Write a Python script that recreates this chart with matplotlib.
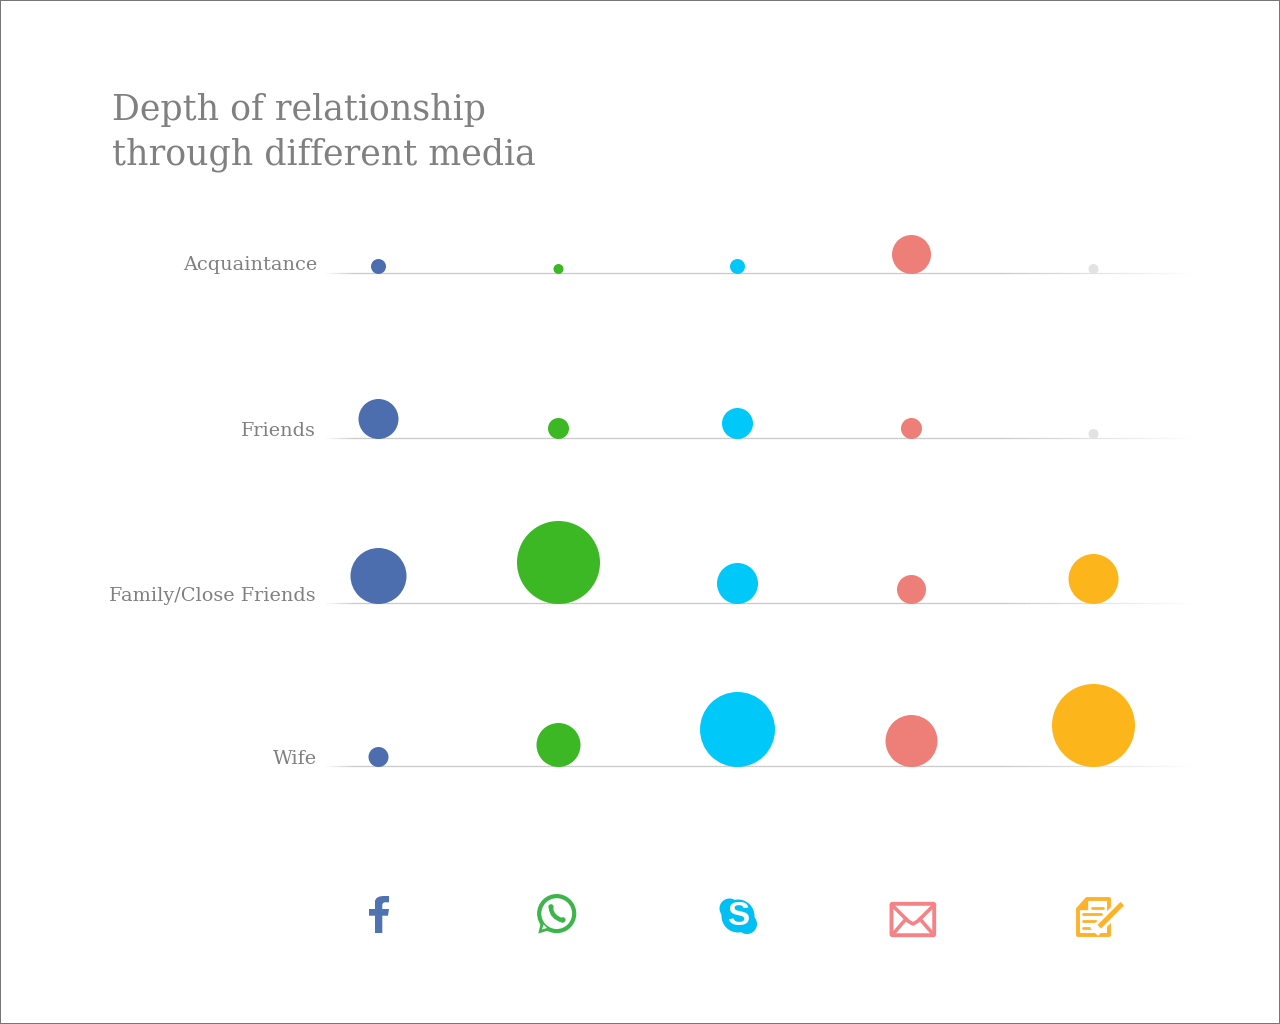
import matplotlib
matplotlib.use("Agg")
import matplotlib.pyplot as plt
import numpy as np
from matplotlib.collections import LineCollection
from matplotlib.patches import Circle, FancyBboxPatch, PathPatch, Polygon, Rectangle
from matplotlib.path import Path

relationships = ["Acquaintance", "Friends", "Family/Close Friends", "Wife"]
facebook = [15, 40, 56, 20]
whatsapp = [10, 21, 83, 44]
skype = [15, 31, 41, 75]
email = [39, 21, 29, 52]
notes = [10, 10, 50, 83]

title_lines = ["Depth of relationship", "through different media"]

# layout, in pixels of the 1280x1024 picture
col_x = [378.5, 558.5, 737.5, 911.5, 1093.5]
row_y = [274, 439, 604, 767]
label_y = [270, 436, 601, 764]
label_x = [317, 316, 316, 317]

col_colors = ["#4c6eae", "#3cb825", "#00c9fa", "#ee7f78", "#fdb51c"]
faint = "#e2e2e2"
text_gray = "#808080"
serif = "DejaVu Serif"

fig = plt.figure(figsize=(12.8, 10.24), dpi=100, facecolor="white")
ax = fig.add_axes([0, 0, 1, 1])
ax.set_xlim(0, 1280)
ax.set_ylim(1024, 0)
ax.axis("off")

# border, half of the stroke falls off the canvas
ax.add_patch(Rectangle((0, 0), 1280, 1024, fill=False, ec="#777777", lw=1.44))

for i, line in enumerate(title_lines):
    ax.text(112, 120 + i * 44, line, fontsize=25, family=serif, color=text_gray,
            ha="left", va="baseline")


def fade_line(y):
    # baseline fades out at both ends
    xs = np.linspace(322, 1190, 218)
    segs = [[(xs[k], y), (xs[k + 1], y)] for k in range(len(xs) - 1)]
    alpha = np.clip((xs[:-1] - 322) / 30, 0, 1) * np.clip((1190 - xs[:-1]) / 190, 0, 1)
    cols = [(0.78, 0.78, 0.78, a) for a in alpha]
    ax.add_collection(LineCollection(segs, colors=cols, linewidths=0.9, zorder=1,
                                     capstyle="butt"))


columns = [facebook, whatsapp, skype, email, notes]
for r, name in enumerate(relationships):
    fade_line(row_y[r] - 1)
    ax.text(label_x[r], label_y[r], name, fontsize=13.9, family=serif, color=text_gray,
            ha="right", va="baseline")
    for c, vals in enumerate(columns):
        d = vals[r]
        col = col_colors[c]
        if c == 4 and d <= 10:
            col = faint
        ax.add_patch(Circle((col_x[c], row_y[r] - d / 2), d / 2, fc=col, ec="none", zorder=2))

# icons along the bottom
blue, green, sky, pink, amber = "#4f72b0", "#3cb54a", "#00bff3", "#f58287", "#fdb22a"

# facebook f
f_verts = [(375, 933), (382.3, 933), (382.3, 915.7), (388, 915.7), (389, 909), (382.3, 909),
           (382.3, 905), (382.3, 902.5), (385, 902.3), (389, 902.3), (389, 896),
           (384, 896), (376, 896), (375, 901), (375, 906), (375, 909), (369, 909),
           (369, 915.7), (375, 915.7), (375, 933)]
f_codes = [Path.MOVETO, Path.LINETO, Path.LINETO, Path.LINETO, Path.LINETO, Path.LINETO,
           Path.LINETO, Path.CURVE3, Path.CURVE3, Path.LINETO, Path.LINETO,
           Path.LINETO, Path.CURVE3, Path.CURVE3, Path.LINETO, Path.LINETO, Path.LINETO,
           Path.LINETO, Path.LINETO, Path.CLOSEPOLY]
ax.add_patch(PathPatch(Path(f_verts, f_codes), fc=blue, ec="none"))

# whatsapp
ax.add_patch(Polygon([(538.3, 933.5), (541, 922), (550, 930)], fc=green, ec="none"))
ax.add_patch(Circle((556.7, 913.6), 17.5, fc="white", ec=green, lw=3))
ax.add_patch(Polygon([(542, 929.5), (543.5, 924.5), (547, 928)], fc="white", ec="none"))
phone = Path([(551, 908), (551.5, 917), (562.5, 920.5)], [Path.MOVETO, Path.CURVE3, Path.CURVE3])
ax.add_patch(PathPatch(phone, fc="none", ec=green, lw=3.2, capstyle="round"))
ax.add_patch(Circle((551, 906.8), 2.6, fc=green, ec="none"))
ax.add_patch(Circle((563, 919.8), 2.6, fc=green, ec="none"))

# skype
ax.add_patch(Circle((738, 916), 16.5, fc=sky, ec="none"))
ax.add_patch(Circle((729.5, 908.5), 10, fc=sky, ec="none"))
ax.add_patch(Circle((747, 924), 10, fc=sky, ec="none"))
ax.text(738, 916.5, "S", fontsize=24, family="Liberation Sans", weight="bold", color="white",
        ha="center", va="center")

# mail
ax.add_patch(FancyBboxPatch((891.5, 903.8), 42.7, 31.4, boxstyle="round,pad=0,rounding_size=1",
                            fc="white", ec=pink, lw=2.8))
ax.plot([892, 908, 913, 918, 934], [905, 921, 924, 921, 905], color=pink, lw=2.6)
ax.plot([893, 906], [934, 919], color=pink, lw=2.6)
ax.plot([933, 920], [934, 919], color=pink, lw=2.6)

# notepad
doc = [(1087, 898.7), (1109.3, 898.7), (1109.3, 934.6), (1077.5, 934.6), (1077.5, 908.5)]
ax.add_patch(Polygon(doc, closed=True, fc="white", ec=amber, lw=2.8, joinstyle="round"))
ax.add_patch(Polygon([(1077.5, 908.5), (1087, 908.5), (1087, 898.7)], fc=amber, ec=amber, lw=1))
for x0, x1, y in [(1092, 1103, 907.5), (1083, 1101, 913.5), (1083, 1096, 920.5), (1083, 1093, 927.5)]:
    ax.plot([x0, x1], [y, y], color=amber, lw=2, solid_capstyle="round")
ax.plot([1098, 1121], [928, 905], color="white", lw=8)
ax.plot([1101, 1120.5], [925, 905.5], color=amber, lw=3.6)
ax.add_patch(Polygon([(1097, 929), (1098.5, 923.5), (1102.5, 927)], fc=amber, ec="none"))

fig.savefig("out.png", dpi=100, facecolor="white")
